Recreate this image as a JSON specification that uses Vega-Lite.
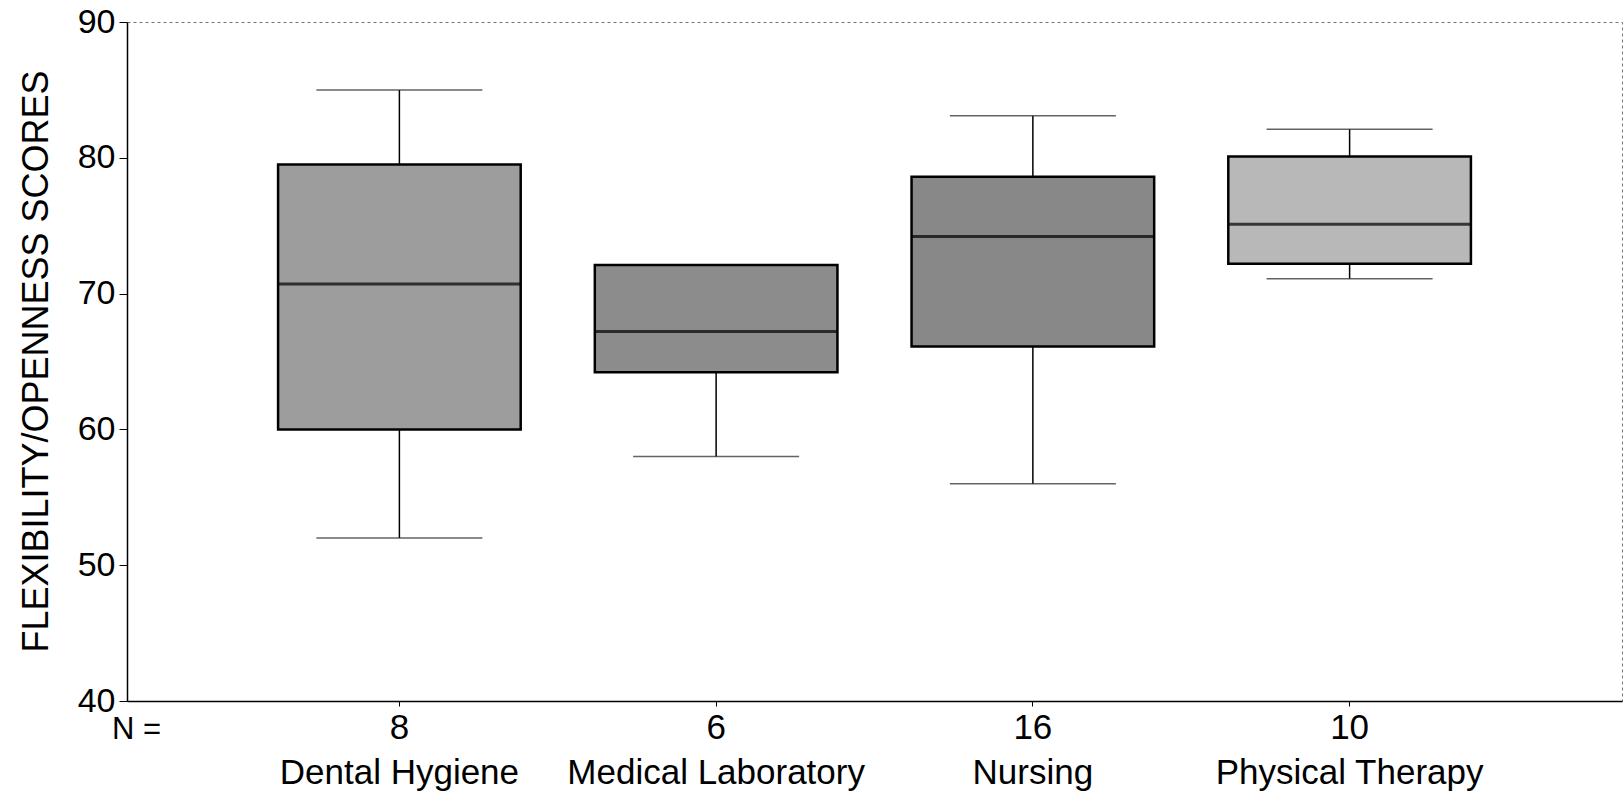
{
  "$schema": "https://vega.github.io/schema/vega-lite/v6.json",
  "width": 1495,
  "height": 679,
  "autosize": "none",
  "padding": {"left": 127, "top": 22, "right": 2, "bottom": 96},
  "background": "white",
  "config": {
    "view": {"stroke": "#777777", "strokeWidth": 1, "strokeDash": [3, 3]},
    "font": "Liberation Sans"
  },
  "data": {
    "values": [
      {"program": "Dental Hygiene", "n": 8, "lower": 52, "q1": 60, "median": 70.7, "q3": 79.5, "upper": 85},
      {"program": "Medical Laboratory", "n": 6, "lower": 58, "q1": 64.2, "median": 67.2, "q3": 72.1, "upper": 72.1},
      {"program": "Nursing", "n": 16, "lower": 56, "q1": 66.1, "median": 74.2, "q3": 78.6, "upper": 83.1},
      {"program": "Physical Therapy", "n": 10, "lower": 71.1, "q1": 72.2, "median": 75.1, "q3": 80.1, "upper": 82.1}
    ]
  },
  "encoding": {
    "x": {
      "field": "program",
      "type": "nominal",
      "sort": null,
      "scale": {"paddingInner": 0, "paddingOuter": 0.36},
      "axis": {
        "title": "N =",
        "titleFont": "Liberation Sans",
        "titleFontSize": 31,
        "titleFontWeight": "normal",
        "titleColor": "black",
        "titleX": 9,
        "titleY": 28,
        "titleAlign": "center",
        "titleBaseline": "middle",
        "titleAnchor": "start",
        "labelAngle": 0,
        "labelFont": "Liberation Sans",
        "labelFontSize": 35,
        "labelColor": "black",
        "labelBaseline": "top",
        "labelPadding": 4,
        "labelLineHeight": 45,
        "labelLimit": 0,
        "labelExpr": "[{'Dental Hygiene':'8','Medical Laboratory':'6','Nursing':'16','Physical Therapy':'10'}[datum.value], datum.value]",
        "domainColor": "black",
        "domainWidth": 1.5,
        "tickColor": "black",
        "tickSize": 5,
        "grid": false
      }
    }
  },
  "layer": [
    {
      "mark": {"type": "rule", "color": "black", "strokeWidth": 1.5},
      "encoding": {
        "y": {
          "field": "lower",
          "type": "quantitative",
          "scale": {"domain": [40, 90], "nice": false, "zero": false},
          "axis": {
            "title": "FLEXIBILITY/OPENNESS SCORES",
            "titleFont": "Liberation Sans",
            "titleFontSize": 36,
            "titleFontWeight": "normal",
            "titleColor": "black",
            "titleX": -91,
            "titleY": 339,
            "titleAngle": -90,
            "titleAlign": "center",
            "titleBaseline": "middle",
            "values": [40, 50, 60, 70, 80, 90],
            "labelFont": "Liberation Sans",
            "labelFontSize": 34,
            "labelColor": "black",
            "labelPadding": 4,
            "tickColor": "black",
            "tickSize": 8,
            "domainColor": "black",
            "domainWidth": 1.5,
            "grid": false
          }
        },
        "y2": {"field": "upper"}
      }
    },
    {
      "mark": {"type": "tick", "color": "#222222", "size": 166, "thickness": 1.5},
      "encoding": {"y": {"field": "upper", "type": "quantitative"}}
    },
    {
      "mark": {"type": "tick", "color": "#222222", "size": 166, "thickness": 1.5},
      "encoding": {"y": {"field": "lower", "type": "quantitative"}}
    },
    {
      "mark": {"type": "bar", "width": {"band": 0.766}, "stroke": "black", "strokeWidth": 2.5, "opacity": 1},
      "encoding": {
        "y": {"field": "q1", "type": "quantitative"},
        "y2": {"field": "q3"},
        "color": {
          "field": "program",
          "type": "nominal",
          "scale": {
            "domain": ["Dental Hygiene", "Medical Laboratory", "Nursing", "Physical Therapy"],
            "range": ["#9d9d9d", "#8c8c8c", "#888888", "#b8b8b8"]
          },
          "legend": null
        }
      }
    },
    {
      "mark": {"type": "tick", "color": "black", "size": 243, "thickness": 3},
      "encoding": {"y": {"field": "median", "type": "quantitative"}}
    }
  ]
}
